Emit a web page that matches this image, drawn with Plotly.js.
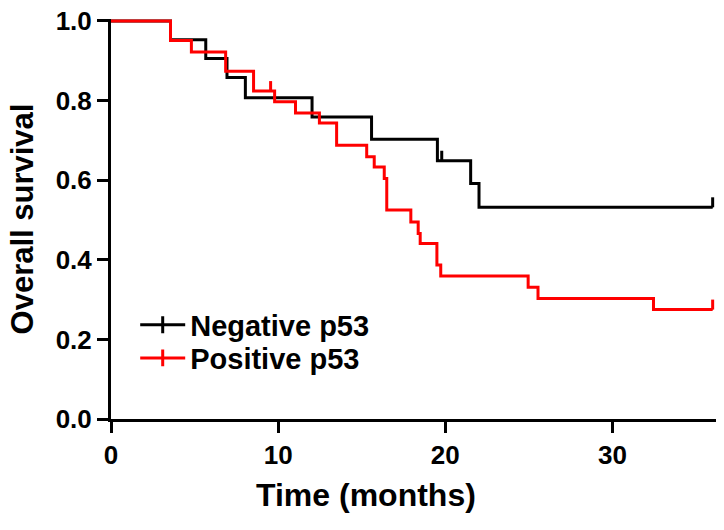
<!DOCTYPE html>
<html>
<head>
<meta charset="utf-8">
<script src="https://cdn.plot.ly/plotly-3.0.1.min.js"></script>
<style>
  html, body { margin: 0; padding: 0; background: #fff; }
  #chart { width: 724px; height: 530px; }
</style>
</head>
<body>
<div id="chart"></div>
<script>
/* Kaplan-Meier curves, overall survival by p53 status */

// Negative p53 (black)
const NEG_T = [0, 3.56, 5.67, 6.94, 8.04, 12.03, 15.59, 19.53, 21.52, 22.02, 36];
const NEG_S = [1, 0.953, 0.906, 0.858, 0.807, 0.759, 0.703, 0.649, 0.592, 0.532, 0.532];
const NEG_CENS_T = [19.79, 36];
const NEG_CENS_S = [0.649, 0.532];

// Positive p53 (red)
const POS_T = [0, 3.56, 4.81, 6.86, 8.53, 9.79, 11.04, 12.47, 13.5, 15.3, 15.75, 16.35, 16.5,
               17.94, 18.38, 18.5, 19.5, 19.73, 24.96, 25.55, 32.46, 36];
const POS_S = [1, 0.951, 0.922, 0.874, 0.824, 0.797, 0.769, 0.744, 0.688, 0.659, 0.633, 0.604, 0.525,
               0.495, 0.466, 0.441, 0.387, 0.359, 0.331, 0.303, 0.275, 0.275];
const POS_CENS_T = [9.55, 36];
const POS_CENS_S = [0.824, 0.275];

const GROUPS = ["Negative p53", "Positive p53"];
const COLORS = ["#000000", "#ff0000"];

const X_TICKS = [0, 10, 20, 30];
const Y_TICKS = [0, 0.2, 0.4, 0.6, 0.8, 1.0];

const FONT = "Liberation Sans, Arial, Helvetica, sans-serif";
const CENSOR_H = 0.025;

function stepTrace(t, s, color) {
  return {
    x: t, y: s, type: 'scatter', mode: 'lines',
    line: { shape: 'hv', color: color, width: 3 },
    showlegend: false, hoverinfo: 'skip'
  };
}

// small upward ticks for censored cases
function censorTrace(t, s, color) {
  return {
    x: t, y: s, type: 'scatter', mode: 'markers',
    marker: { size: 1, color: color },
    error_y: { type: 'data', symmetric: false, array: t.map(() => CENSOR_H),
               arrayminus: t.map(() => 0), thickness: 3, width: 0, color: color },
    showlegend: false, hoverinfo: 'skip'
  };
}

function legendTrace(name, color, legendId) {
  return {
    x: [null], y: [null], type: 'scatter', mode: 'lines+markers', name: name,
    legend: legendId,
    line: { color: color, width: 3 },
    marker: { symbol: 'line-ns', size: 12, color: color, line: { color: color, width: 3 } }
  };
}

const traces = [
  stepTrace(NEG_T, NEG_S, COLORS[0]),
  censorTrace(NEG_CENS_T, NEG_CENS_S, COLORS[0]),
  stepTrace(POS_T, POS_S, COLORS[1]),
  censorTrace(POS_CENS_T, POS_CENS_S, COLORS[1]),
  legendTrace(GROUPS[0], COLORS[0], 'legend'),
  legendTrace(GROUPS[1], COLORS[1], 'legend2')
];

const axisCommon = {
  showline: true, linewidth: 3, linecolor: '#000',
  ticks: 'outside', ticklen: 11, tickwidth: 3, tickcolor: '#000',
  showgrid: false, zeroline: false,
  tickfont: { family: FONT, size: 26, color: '#000', weight: 700 }
};

const legendFont = { family: FONT, size: 29, color: '#000', weight: 700 };

const layout = {
  width: 724, height: 530,
  margin: { l: 111, r: 8, t: 19, b: 111 },
  paper_bgcolor: '#fff', plot_bgcolor: '#fff',
  font: { family: FONT, color: '#000' },
  xaxis: Object.assign({}, axisCommon, {
    range: [0, 36.2], tickvals: X_TICKS
  }),
  yaxis: Object.assign({}, axisCommon, {
    range: [0, 1.005], tickvals: Y_TICKS, tickformat: '.1f',
    title: { text: 'Overall survival', standoff: 13,
             font: { family: FONT, size: 31, color: '#000', weight: 700 } }
  }),
  legend: {
    x: 0.04, y: 0.299, xanchor: 'left', yanchor: 'top', itemwidth: 45,
    bgcolor: 'rgba(0,0,0,0)', font: legendFont
  },
  legend2: {
    x: 0.04, y: 0.216, xanchor: 'left', yanchor: 'top', itemwidth: 45,
    bgcolor: 'rgba(0,0,0,0)', font: legendFont
  },
  annotations: [{
    text: 'Time (months)', xref: 'paper', yref: 'paper',
    x: 0.4215, y: -0.191, xanchor: 'center', yanchor: 'middle', showarrow: false,
    font: { family: FONT, size: 32, color: '#000', weight: 700 }
  }]
};

Plotly.newPlot('chart', traces, layout, { staticPlot: true, displayModeBar: false });
</script>
</body>
</html>
